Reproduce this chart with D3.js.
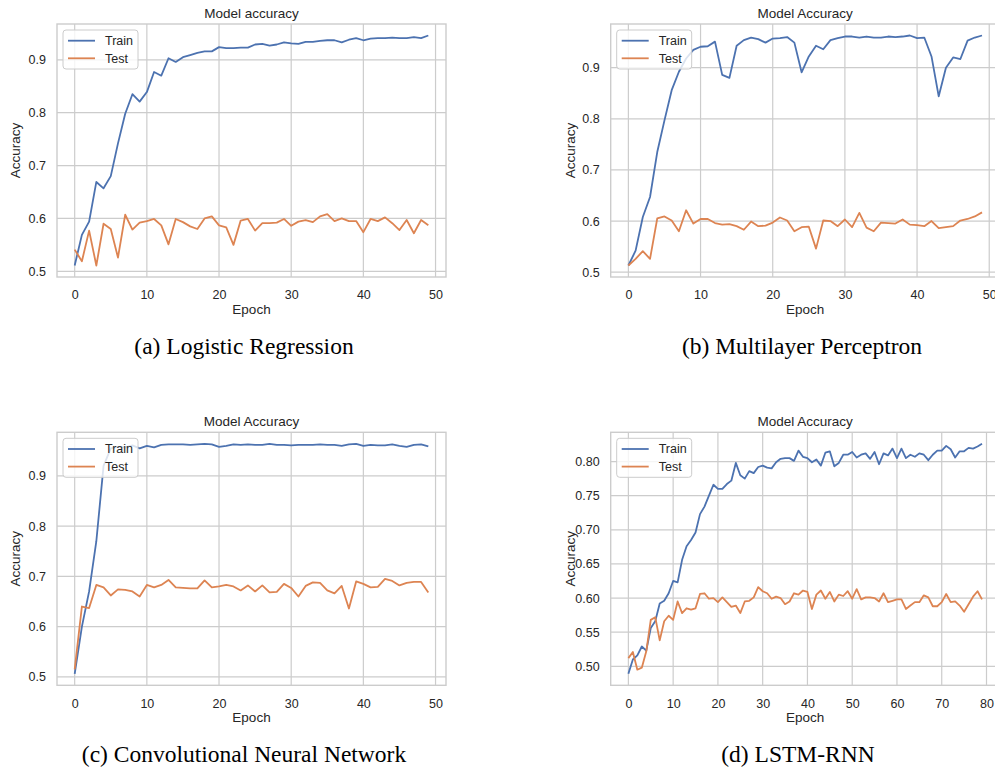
<!DOCTYPE html>
<html>
<head>
<meta charset="utf-8">
<script src="https://cdn.jsdelivr.net/npm/d3@7"></script>
<style>
  body { margin: 0; background: #fff; }
  svg { display: block; font-family: "Liberation Sans", Arial, sans-serif; }
</style>
</head>
<body>
<script>
// accuracy per epoch
var lrTrain = [0.511, 0.569, 0.594, 0.669, 0.657, 0.680, 0.742, 0.798, 0.835, 0.821,
               0.839, 0.877, 0.870, 0.903, 0.896, 0.905, 0.909, 0.913, 0.916, 0.916,
               0.924, 0.922, 0.922, 0.923, 0.923, 0.929, 0.930, 0.927, 0.929, 0.933,
               0.931, 0.930, 0.934, 0.934, 0.936, 0.937, 0.937, 0.933, 0.938, 0.941,
               0.937, 0.940, 0.941, 0.941, 0.942, 0.941, 0.941, 0.943, 0.941, 0.946];
var lrTest = [0.541, 0.519, 0.577, 0.511, 0.590, 0.580, 0.526, 0.607, 0.579, 0.592,
              0.595, 0.599, 0.587, 0.551, 0.599, 0.593, 0.585, 0.580, 0.600, 0.604,
              0.587, 0.583, 0.550, 0.596, 0.599, 0.577, 0.591, 0.591, 0.592, 0.599,
              0.586, 0.594, 0.597, 0.593, 0.604, 0.608, 0.595, 0.600, 0.595, 0.595,
              0.574, 0.599, 0.595, 0.602, 0.591, 0.578, 0.597, 0.572, 0.597, 0.587];

var mlpTrain = [0.513, 0.542, 0.608, 0.647, 0.735, 0.797, 0.856, 0.892, 0.918, 0.935,
                0.941, 0.942, 0.951, 0.886, 0.880, 0.943, 0.954, 0.959, 0.956, 0.949,
                0.957, 0.958, 0.960, 0.949, 0.891, 0.922, 0.943, 0.936, 0.954, 0.958,
                0.961, 0.961, 0.959, 0.961, 0.959, 0.959, 0.961, 0.960, 0.961, 0.963,
                0.958, 0.959, 0.922, 0.844, 0.900, 0.920, 0.917, 0.953, 0.959, 0.963];
var mlpTest = [0.513, 0.526, 0.541, 0.526, 0.605, 0.609, 0.601, 0.580, 0.621, 0.595,
               0.604, 0.604, 0.596, 0.593, 0.594, 0.590, 0.583, 0.599, 0.590, 0.591,
               0.597, 0.607, 0.601, 0.580, 0.588, 0.589, 0.546, 0.601, 0.600, 0.590,
               0.603, 0.588, 0.616, 0.587, 0.580, 0.597, 0.596, 0.595, 0.603, 0.593,
               0.592, 0.590, 0.600, 0.586, 0.588, 0.590, 0.601, 0.604, 0.609, 0.617];

var cnnTrain = [0.506, 0.600, 0.670, 0.770, 0.920, 0.955, 0.958, 0.957, 0.961, 0.955,
                0.960, 0.957, 0.962, 0.963, 0.963, 0.963, 0.962, 0.963, 0.964, 0.963,
                0.958, 0.960, 0.963, 0.962, 0.963, 0.962, 0.962, 0.964, 0.962, 0.962,
                0.961, 0.962, 0.962, 0.962, 0.963, 0.962, 0.962, 0.960, 0.963, 0.964,
                0.960, 0.962, 0.961, 0.961, 0.963, 0.960, 0.958, 0.962, 0.963, 0.959];
var cnnTest = [0.515, 0.640, 0.637, 0.683, 0.678, 0.662, 0.674, 0.673, 0.670, 0.660,
               0.683, 0.678, 0.683, 0.693, 0.678, 0.677, 0.676, 0.676, 0.692, 0.678,
               0.680, 0.683, 0.680, 0.672, 0.682, 0.670, 0.682, 0.668, 0.669, 0.685,
               0.677, 0.660, 0.681, 0.688, 0.687, 0.672, 0.666, 0.681, 0.636, 0.690,
               0.685, 0.678, 0.679, 0.695, 0.691, 0.682, 0.687, 0.689, 0.689, 0.668];

var lstmTrain = [0.489, 0.510, 0.516, 0.529, 0.523, 0.556, 0.566, 0.592, 0.596, 0.607,
                 0.625, 0.623, 0.656, 0.676, 0.685, 0.696, 0.723, 0.734, 0.750, 0.766,
                 0.760, 0.760, 0.767, 0.772, 0.798, 0.780, 0.775, 0.786, 0.783, 0.792,
                 0.794, 0.791, 0.790, 0.799, 0.804, 0.805, 0.805, 0.801, 0.816, 0.807,
                 0.805, 0.799, 0.803, 0.794, 0.813, 0.815, 0.793, 0.798, 0.810, 0.810,
                 0.814, 0.806, 0.810, 0.812, 0.804, 0.814, 0.796, 0.812, 0.809, 0.819,
                 0.805, 0.819, 0.805, 0.810, 0.807, 0.812, 0.810, 0.802, 0.810, 0.816,
                 0.816, 0.823, 0.818, 0.806, 0.815, 0.815, 0.820, 0.819, 0.822, 0.826];
var lstmTest = [0.512, 0.521, 0.495, 0.498, 0.522, 0.568, 0.572, 0.538, 0.566, 0.574,
                0.568, 0.595, 0.578, 0.585, 0.583, 0.585, 0.606, 0.607, 0.599, 0.600,
                0.594, 0.601, 0.594, 0.587, 0.589, 0.578, 0.595, 0.596, 0.601, 0.616,
                0.610, 0.607, 0.599, 0.602, 0.600, 0.591, 0.595, 0.607, 0.605, 0.611,
                0.609, 0.584, 0.605, 0.611, 0.599, 0.609, 0.595, 0.605, 0.603, 0.610,
                0.599, 0.613, 0.598, 0.601, 0.601, 0.600, 0.595, 0.607, 0.594, 0.596,
                0.598, 0.598, 0.584, 0.589, 0.594, 0.594, 0.604, 0.601, 0.588, 0.588,
                0.594, 0.606, 0.594, 0.595, 0.589, 0.580, 0.591, 0.602, 0.610, 0.598];

var titles = ["Model accuracy", "Model Accuracy", "Model Accuracy", "Model Accuracy"];
var captions = ["(a) Logistic Regression", "(b) Multilayer Perceptron",
                "(c) Convolutional Neural Network", "(d) LSTM-RNN"];
var seriesNames = ["Train", "Test"];
var seriesColors = ["#4c72b0", "#dd8452"];

var trains = [lrTrain, mlpTrain, cnnTrain, lstmTrain];
var tests = [lrTest, mlpTest, cnnTest, lstmTest];

// where each axes box sits on the page
var layout = [
  {left: 57,    top: 24,    yTicks: 5, xTicks: 6, capX: 244, capY: 354},
  {left: 610.7, top: 24,    yTicks: 5, xTicks: 6, capX: 802, capY: 354},
  {left: 57,    top: 432.3, yTicks: 5, xTicks: 6, capX: 244, capY: 762},
  {left: 610.7, top: 432.3, yTicks: 8, xTicks: 8, capX: 798, capY: 762}
];
var boxW = 389, boxH = 253;
var textColor = "#262626", gridColor = "#cccccc";

var svg = d3.select("body").append("svg")
    .attr("width", 995)
    .attr("height", 768);

svg.append("rect").attr("width", 995).attr("height", 768).attr("fill", "#fff");

layout.forEach(function(p, k) { drawPanel(p, k); });

function drawPanel(p, k) {
  var train = trains[k], test = tests[k];
  var n = train.length;
  var all = train.concat(test);
  var lo = d3.min(all), hi = d3.max(all), pad = (hi - lo) * 0.05;

  // matplotlib-like 5% margins
  var x = d3.scaleLinear()
      .domain([-(n - 1) * 0.05, (n - 1) * 1.05])
      .range([0, boxW]);
  var y = d3.scaleLinear()
      .domain([lo - pad, hi + pad])
      .range([boxH, 0]);

  var g = svg.append("g")
      .attr("transform", "translate(" + p.left + "," + p.top + ")");

  // grid
  g.selectAll(".vgrid")
      .data(x.ticks(p.xTicks))
    .enter().append("line")
      .attr("x1", function(d) { return x(d); })
      .attr("x2", function(d) { return x(d); })
      .attr("y1", 0).attr("y2", boxH)
      .attr("stroke", gridColor).attr("stroke-width", 1.2);

  g.selectAll(".hgrid")
      .data(y.ticks(p.yTicks))
    .enter().append("line")
      .attr("y1", function(d) { return y(d); })
      .attr("y2", function(d) { return y(d); })
      .attr("x1", 0).attr("x2", boxW)
      .attr("stroke", gridColor).attr("stroke-width", 1.2);

  g.append("rect")
      .attr("width", boxW).attr("height", boxH)
      .attr("fill", "none")
      .attr("stroke", gridColor).attr("stroke-width", 1.4);

  // axes, labels only
  var xAxis = g.append("g")
      .attr("transform", "translate(0," + boxH + ")")
      .call(d3.axisBottom(x).ticks(p.xTicks).tickSize(0).tickPadding(13.5));
  var yAxis = g.append("g")
      .call(d3.axisLeft(y).ticks(p.yTicks).tickSize(0).tickPadding(11));

  [xAxis, yAxis].forEach(function(a) {
    a.select(".domain").remove();
    a.selectAll("text")
        .attr("fill", textColor)
        .style("font-size", "12.5px")
        .style("font-family", '"Liberation Sans", Arial, sans-serif');
  });

  var line = d3.line()
      .x(function(d, i) { return x(i); })
      .y(function(d) { return y(d); });

  g.selectAll(".series")
      .data([train, test])
    .enter().append("path")
      .attr("d", line)
      .attr("fill", "none")
      .attr("stroke", function(d, i) { return seriesColors[i]; })
      .attr("stroke-width", 1.8)
      .attr("stroke-linejoin", "round");

  // titles and axis labels
  g.append("text")
      .attr("x", boxW / 2).attr("y", -6.5)
      .attr("text-anchor", "middle")
      .attr("fill", textColor)
      .style("font-size", "13.5px")
      .text(titles[k]);

  g.append("text")
      .attr("x", boxW / 2).attr("y", boxH + 36.5)
      .attr("text-anchor", "middle")
      .attr("fill", textColor)
      .style("font-size", "13.5px")
      .text("Epoch");

  g.append("text")
      .attr("transform", "translate(" + (k % 2 ? -(p.left - 575) : -37) + "," + (boxH / 2) + ") rotate(-90)")
      .attr("text-anchor", "middle")
      .attr("fill", textColor)
      .style("font-size", "13.5px")
      .text("Accuracy");

  // legend
  var legend = g.append("g").attr("transform", "translate(6,6)");
  legend.append("rect")
      .attr("width", 75).attr("height", 39)
      .attr("rx", 3)
      .attr("fill", "#fff").attr("fill-opacity", 0.8)
      .attr("stroke", gridColor);

  var item = legend.selectAll(".item")
      .data(seriesNames)
    .enter().append("g")
      .attr("transform", function(d, i) { return "translate(0," + (10.7 + i * 17.6) + ")"; });
  item.append("line")
      .attr("x1", 5).attr("x2", 32)
      .attr("stroke", function(d, i) { return seriesColors[i]; })
      .attr("stroke-width", 1.8);
  item.append("text")
      .attr("x", 42).attr("dy", "0.35em")
      .attr("fill", textColor)
      .style("font-size", "12.5px")
      .text(function(d) { return d; });

  // sub-figure caption
  svg.append("text")
      .attr("x", p.capX).attr("y", p.capY)
      .attr("text-anchor", "middle")
      .attr("fill", "#000")
      .style("font-family", '"Liberation Serif", "Times New Roman", serif')
      .style("font-size", "23.5px")
      .text(captions[k]);
}
</script>
</body>
</html>
